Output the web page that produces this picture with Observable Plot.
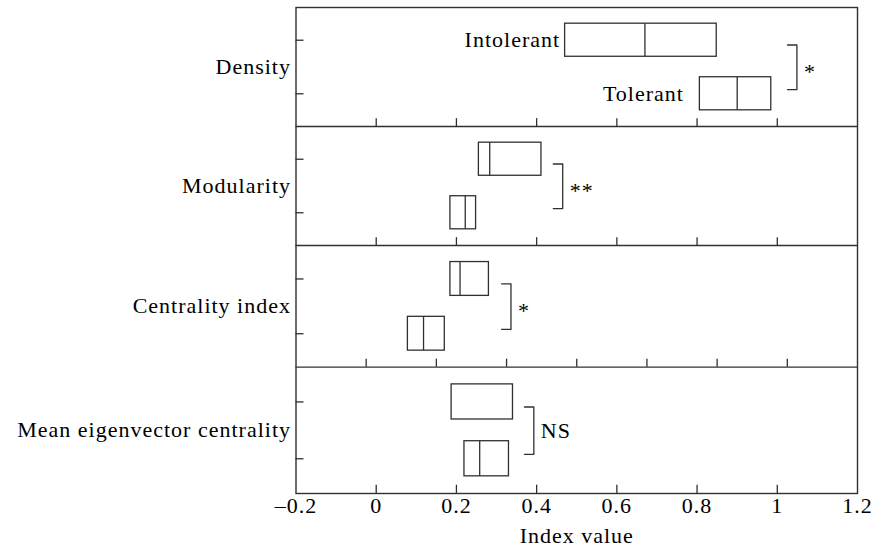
<!DOCTYPE html>
<html>
<head>
<meta charset="utf-8">
<script src="https://cdn.jsdelivr.net/npm/d3@7"></script>
<script src="https://cdn.jsdelivr.net/npm/@observablehq/plot@0.6"></script>
<style>
  body { margin: 0; background: #fff; }
  svg text { font-family: "Liberation Serif", "Times New Roman", serif !important; letter-spacing: 1px; }
</style>
</head>
<body>
<script>
// ---- Data ----
const metrics = ["Density", "Modularity", "Centrality index", "Mean eigenvector centrality"];
const groups = ["Intolerant", "Tolerant"];

const q1Intolerant     = [0.471, 0.256, 0.185, 0.188];
const medianIntolerant = [0.670, 0.283, 0.209, null];
const q3Intolerant     = [0.849, 0.412, 0.281, 0.341];

const q1Tolerant       = [0.807, 0.185, 0.079, 0.220];
const medianTolerant   = [0.900, 0.222, 0.118, 0.258];
const q3Tolerant       = [0.985, 0.249, 0.171, 0.331];

const significance = ["*", "**", "*", "NS"];
const bracketX = [1.049, 0.465, 0.336, 0.393];

const axisTicks = [-0.2, 0, 0.2, 0.4, 0.6, 0.8, 1, 1.2];
const axisTickLabels = ["\u20130.2", "0", "0.2", "0.4", "0.6", "0.8", "1", "1.2"];
const panelTicks = [0, 0.2, 0.4, 0.6, 0.8, 1.0];
const panel3Ticks = [-0.025, 0.15, 0.325, 0.5, 0.675, 0.85, 1.025];

// ---- Build tables ----
const rows = [];
metrics.forEach((m, i) => {
  rows.push({metric: m, panel: i, group: 0, label: groups[0], q1: q1Intolerant[i], med: medianIntolerant[i], q3: q3Intolerant[i]});
  rows.push({metric: m, panel: i, group: 1, label: groups[1], q1: q1Tolerant[i], med: medianTolerant[i], q3: q3Tolerant[i]});
});

const boxCenter = [0.275, 0.725];
const boxHalf = 0.139;
const yTop = d => d.panel + boxCenter[d.group] - boxHalf;
const yBot = d => d.panel + boxCenter[d.group] + boxHalf;
const yMid = d => d.panel + boxCenter[d.group];

const tickLenX = 8 / 401;
const tickLenY = 0.066;

const bottomTicks = [];
[panelTicks, panelTicks, panel3Ticks, panelTicks].forEach((ticks, i) =>
  ticks.forEach(t => bottomTicks.push({x: t, panel: i})));

const arm = 0.0235;
const brackets = [];
bracketX.forEach((bx, i) => {
  [[bx - arm, 0.315], [bx, 0.315], [bx, 0.69], [bx - arm, 0.69]]
    .forEach(([x, f]) => brackets.push({x, y: i + f, panel: i}));
});
const sig = significance.map((s, i) => ({s, panel: i, x: bracketX[i]}));

const FONT = "Liberation Serif";
const FS = 22;
const STROKE = "#303030";

const chart = Plot.plot({
  width: 872,
  height: 555,
  marginLeft: 295.5,
  marginRight: 15,
  marginTop: 7,
  marginBottom: 62,
  x: {domain: [-0.2, 1.2], axis: null},
  y: {type: "linear", domain: [0, 1, 2, 3, 4], range: [7, 126, 245, 366.7, 493], axis: null},
  style: {background: "white", color: "black"},
  marks: [
    Plot.ruleY([1, 2, 3], {stroke: STROKE, strokeWidth: 1.3}),
    Plot.frame({stroke: STROKE, strokeWidth: 1.4}),
    Plot.ruleX(bottomTicks, {x: "x", y1: d => d.panel + 1, y2: d => d.panel + 1 - tickLenY, stroke: STROKE, strokeWidth: 1.3}),
    Plot.ruleY(rows, {y: yMid, x1: -0.2, x2: -0.2 + tickLenX, stroke: STROKE, strokeWidth: 1.3}),
    Plot.rect(rows, {x1: "q1", x2: "q3", y1: yTop, y2: yBot, fill: "white", stroke: STROKE, strokeWidth: 1.3}),
    Plot.ruleX(rows.filter(d => d.med != null), {x: "med", y1: yTop, y2: yBot, stroke: STROKE, strokeWidth: 1.3}),
    Plot.line(brackets, {x: "x", y: "y", z: "panel", stroke: STROKE, strokeWidth: 1.3}),
    Plot.text(sig.filter(d => d.s !== "NS"), {x: "x", y: d => d.panel + 0.5, text: "s", textAnchor: "start", dx: 7, dy: 5, fontSize: FS, fontFamily: FONT}),
    Plot.text(sig.filter(d => d.s === "NS"), {x: "x", y: d => d.panel + 0.5, text: "s", textAnchor: "start", dx: 7, dy: 1, fontSize: FS, fontFamily: FONT}),
    Plot.text(rows.filter(d => d.panel === 0 && d.group === 0), {x: "q1", y: yMid, text: "label", textAnchor: "end", dx: -5, fontSize: FS, fontFamily: FONT}),
    Plot.text(rows.filter(d => d.panel === 0 && d.group === 1), {x: "q1", y: yMid, text: "label", textAnchor: "end", dx: -16, fontSize: FS, fontFamily: FONT}),
    Plot.text(metrics, {frameAnchor: "left", y: (d, i) => i + 0.5, text: d => d, textAnchor: "end", dx: -5, fontSize: FS, fontFamily: FONT}),
    Plot.text(axisTicks, {x: d => d, text: (d, i) => axisTickLabels[i], frameAnchor: "bottom", dy: 19, fontSize: FS, fontFamily: FONT}),
    Plot.text(["Index value"], {frameAnchor: "bottom", text: d => d, dy: 49.5, fontSize: FS, fontFamily: FONT})
  ]
});

document.body.appendChild(chart);
</script>
</body>
</html>
